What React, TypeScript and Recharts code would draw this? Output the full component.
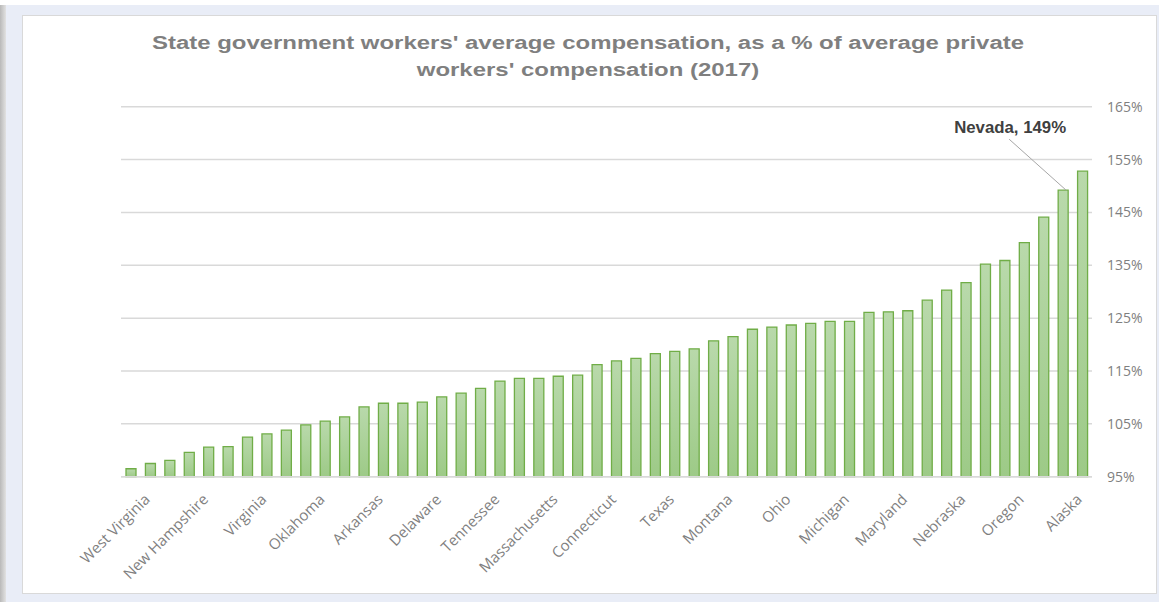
import React from 'react';
import { BarChart, Bar, XAxis, YAxis, CartesianGrid, LabelList } from 'recharts';

const states = [
  'South Dakota', 'West Virginia', 'Maine', 'Missouri', 'New Hampshire', 'Kansas', 'Indiana', 'Virginia',
  'Florida', 'Georgia', 'Oklahoma', 'Mississippi', 'Louisiana', 'Arkansas', 'Arizona', 'Kentucky',
  'Delaware', 'Idaho', 'South Carolina', 'Tennessee', 'Alabama', 'North Carolina', 'Massachusetts', 'Vermont',
  'Utah', 'Connecticut', 'New York', 'Colorado', 'Texas', 'Wyoming', 'Illinois', 'Montana',
  'North Dakota', 'Wisconsin', 'Ohio', 'Washington', 'New Mexico', 'Michigan', 'Iowa', 'Rhode Island',
  'Maryland', 'Minnesota', 'Hawaii', 'Nebraska', 'New Jersey', 'Pennsylvania', 'Oregon', 'California',
  'Nevada', 'Alaska',
];

const values = [
  96.5, 97.5, 98.1, 99.6, 100.6, 100.7, 102.5, 103.1,
  103.8, 104.8, 105.5, 106.3, 108.2, 108.9, 108.9, 109.1,
  110.1, 110.8, 111.7, 113.1, 113.6, 113.6, 114.0, 114.2,
  116.2, 116.9, 117.4, 118.3, 118.7, 119.2, 120.7, 121.5,
  122.9, 123.3, 123.7, 124.0, 124.4, 124.4, 126.1, 126.2,
  126.4, 128.4, 130.3, 131.7, 135.2, 135.9, 139.3, 144.1,
  149.2, 152.8,
];

const labeledStates = [
  'West Virginia', 'New Hampshire', 'Virginia', 'Oklahoma', 'Arkansas', 'Delaware', 'Tennessee',
  'Massachusetts', 'Connecticut', 'Texas', 'Montana', 'Ohio', 'Michigan', 'Maryland', 'Nebraska',
  'Oregon', 'Alaska',
];

const yTicks = [95, 105, 115, 125, 135, 145, 155, 165];

const annotatedState = 'Nevada';

const titleLines = [
  "State government workers' average compensation, as a % of average private",
  "workers' compensation (2017)",
];

const data = states.map((state, i) => ({ state, value: values[i] }));

const CategoryTick = (props: any) => {
  const { x, y, payload } = props;
  if (!labeledStates.includes(payload.value)) return <g />;
  return (
    <g transform={`translate(${x - 3},${y + 12})`}>
      <text
        textAnchor="end"
        transform="rotate(-45)"
        fill="#7f7f7f"
        fontSize={15}
        fontFamily="'Open Sans', sans-serif"
        dy="0.35em"
      >
        {payload.value}
      </text>
    </g>
  );
};

const AnnotationLabel = (props: any) => {
  const { x, y, width, value } = props;
  if (value !== annotatedState) return null;
  const row = data.find((d) => d.state === value);
  const cx = Number(x) + Number(width) / 2;
  const top = Number(y);
  return (
    <g>
      <line x1={cx + 3} y1={top} x2={cx - 54} y2={top - 51} stroke="#a6a6a6" strokeWidth={1} />
      <text
        x={cx - 53}
        y={top - 57}
        textAnchor="middle"
        fill="#404040"
        fontSize={16.8}
        fontWeight="bold"
        fontFamily="'Liberation Sans', Arial, sans-serif"
      >
        {`${value}, ${Math.round(row ? row.value : 0)}%`}
      </text>
    </g>
  );
};

export default function App() {
  return (
    <div style={{ position: 'absolute', left: 0, top: 0, width: 1159, height: 602, background: '#ffffff', overflow: 'hidden' }}>
      <div style={{ position: 'absolute', left: 6, top: 5, right: 0, bottom: 0, background: '#e9edf7' }} />
      <div style={{ position: 'absolute', left: 0, top: 5, width: 6, bottom: 0, background: 'linear-gradient(to right, #b9b9b9, #e2e2e2)' }} />
      <div
        style={{
          position: 'absolute', left: 22, top: 15, width: 1135, height: 579, background: '#ffffff',
          border: '1px solid #d9d9d9', boxSizing: 'border-box',
        }}
      />
      <div
        style={{
          position: 'absolute', left: 0, top: 29, width: 1176, textAlign: 'center',
          fontFamily: "'Liberation Sans', Arial, sans-serif", fontWeight: 'bold', fontSize: 18.8,
          lineHeight: '27px', color: '#7f7f7f', whiteSpace: 'nowrap',
          transform: 'scaleX(1.275)', transformOrigin: '588px 0',
        }}
      >
        {titleLines.map((t) => (
          <div key={t}>{t}</div>
        ))}
      </div>
      <div style={{ position: 'absolute', left: 0, top: 0 }}>
        <BarChart
          width={1159}
          height={602}
          data={data}
          margin={{ top: 106.7, right: 7, left: 121, bottom: 25.3 }}
        >
          <defs>
            <linearGradient id="barGrad" x1="0" y1="0" x2="0" y2="1">
              <stop offset="0%" stopColor="#b9d9ab" />
              <stop offset="100%" stopColor="#9dca87" />
            </linearGradient>
          </defs>
          <CartesianGrid vertical={false} stroke="#d9d9d9" strokeWidth={1.5} />
          <XAxis
            dataKey="state"
            interval={0}
            height={100}
            tickLine={false}
            axisLine={{ stroke: '#d9d9d9', strokeWidth: 1.5 }}
            tick={<CategoryTick />}
          />
          <YAxis
            orientation="right"
            width={60}
            domain={[95, 165]}
            ticks={yTicks}
            interval={0}
            axisLine={false}
            tickLine={false}
            tickSize={0}
            tickMargin={15}
            tickFormatter={(v: number) => `${v}%`}
            tick={{ fill: '#7f7f7f', fontSize: 14, fontFamily: "'Open Sans', sans-serif" }}
          />
          <Bar
            dataKey="value"
            barSize={10}
            fill="url(#barGrad)"
            stroke="#70ad47"
            strokeWidth={1.3}
            isAnimationActive={false}
          >
            <LabelList dataKey="state" content={<AnnotationLabel />} />
          </Bar>
        </BarChart>
      </div>
    </div>
  );
}
